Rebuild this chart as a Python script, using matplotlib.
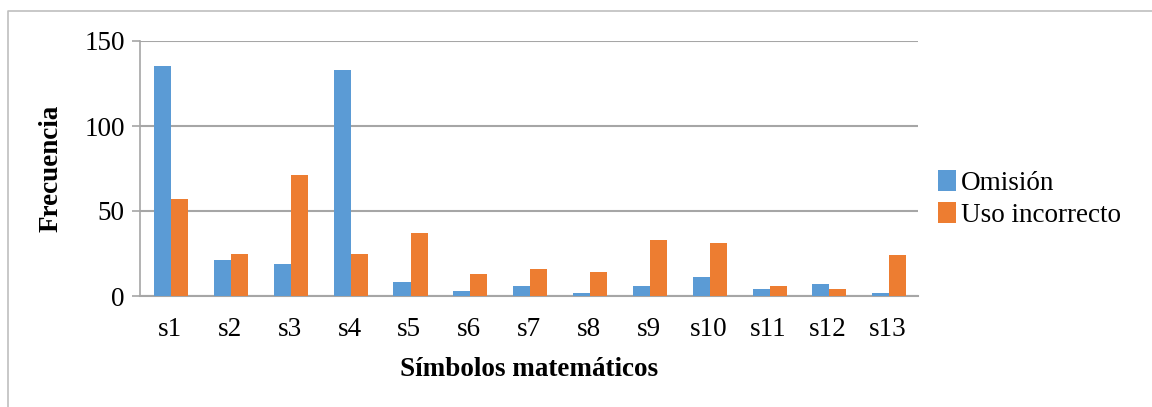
import matplotlib
matplotlib.use("Agg")
import matplotlib.pyplot as plt
import numpy as np
from matplotlib.lines import Line2D

# datos
simbolos = ["s1", "s2", "s3", "s4", "s5", "s6", "s7", "s8", "s9", "s10", "s11", "s12", "s13"]
omision = [135, 21, 19, 133, 8, 3, 6, 2, 6, 11, 4, 7, 2]
uso_incorrecto = [57, 25, 71, 25, 37, 13, 16, 14, 33, 31, 6, 4, 24]

plt.rcParams["font.family"] = ["Liberation Serif", "DejaVu Serif"]
fs = 19.5

fig = plt.figure(figsize=(11.52, 4.07), dpi=100)
ax = fig.add_axes([140 / 1152, 1 - 296 / 407, 778 / 1152, 255 / 407])

# borde exterior (solo arriba e izquierda visibles)
fig.lines.append(Line2D([8 / 1152, 8 / 1152, 1.0], [0, 1 - 11 / 407, 1 - 11 / 407],
                        transform=fig.transFigure, color="#bfbfbf", linewidth=1.2))

x = np.arange(len(simbolos))
w = 0.285
ax.bar(x - w / 2 + 0.02, omision, w, color="#5B9BD5", label="Omisión", zorder=3)
ax.bar(x + w / 2 + 0.02, uso_incorrecto, w, color="#ED7D31", label="Uso incorrecto", zorder=3)

ax.set_xlim(-0.5, len(simbolos) - 0.5)
ax.set_ylim(0, 150)
ax.set_yticks([0, 50, 100, 150])
ax.yaxis.grid(True, color="#a6a6a6", linewidth=1.5, zorder=0)
ax.set_xticks(x)
ax.set_xticklabels(simbolos)
ax.tick_params(axis="x", length=0, pad=15, labelsize=fs)
ax.tick_params(axis="y", length=6, color="#a6a6a6", width=1.2, pad=5, labelsize=fs)

for s in ["top", "right"]:
    ax.spines[s].set_visible(False)
ax.spines["left"].set_color("#a6a6a6")
ax.spines["left"].set_linewidth(1.2)
ax.spines["bottom"].set_color("#a6a6a6")
ax.spines["bottom"].set_linewidth(1.5)

ax.set_xlabel("Símbolos matemáticos", fontsize=fs, fontweight="bold", labelpad=11)
ax.set_ylabel("Frecuencia", fontsize=fs, fontweight="bold", labelpad=15)

ax.legend(loc="center left", bbox_to_anchor=(1.012, 0.38), frameon=False, fontsize=fs,
          handlelength=0.65, handleheight=0.8, handletextpad=0.2, labelspacing=0.25,
          borderaxespad=0.0)

fig.savefig("out.png", dpi=100)
